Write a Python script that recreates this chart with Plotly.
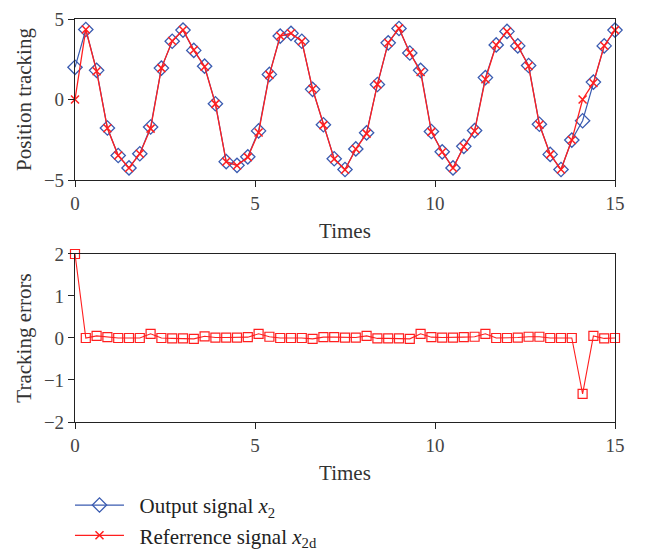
import plotly.graph_objects as go

times = [round(0.3 * i, 1) for i in range(51)]

output_signal = [2.0, 4.35, 1.81, -1.77, -3.48, -4.25, -3.37, -1.71, 1.95, 3.62,
                 4.31, 3.05, 2.07, -0.26, -3.86, -4.09, -3.56, -1.95, 1.56, 3.94,
                 4.11, 3.62, 0.63, -1.57, -3.68, -4.35, -3.07, -2.07, 0.93, 3.52,
                 4.41, 2.89, 1.81, -1.99, -3.25, -4.25, -2.91, -1.93, 1.36, 3.39,
                 4.23, 3.33, 2.11, -1.54, -3.41, -4.35, -2.52, -1.32, 1.08, 3.33,
                 4.31]

reference_signal = [0.0, 4.35, 1.76, -1.79, -3.48, -4.25, -3.37, -1.81, 1.95, 3.63,
                    4.32, 3.07, 2.03, -0.27, -3.87, -4.10, -3.58, -2.05, 1.53, 3.94,
                    4.11, 3.62, 0.65, -1.59, -3.70, -4.36, -3.08, -2.12, 0.94, 3.53,
                    4.42, 2.91, 1.71, -2.01, -3.26, -4.26, -2.93, -1.96, 1.26, 3.39,
                    4.23, 3.32, 2.08, -1.57, -3.41, -4.35, -2.52, 0.0, 1.03, 3.34,
                    4.31]

tracking_error = [2.0, 0.0, 0.05, 0.02, 0.0, 0.0, 0.0, 0.1, 0.0, -0.01,
                  -0.01, -0.02, 0.04, 0.01, 0.01, 0.01, 0.02, 0.1, 0.03, 0.0,
                  0.0, 0.0, -0.02, 0.02, 0.02, 0.01, 0.01, 0.05, -0.01, -0.01,
                  -0.01, -0.02, 0.1, 0.02, 0.01, 0.01, 0.02, 0.03, 0.1, 0.0,
                  0.0, 0.01, 0.03, 0.03, 0.0, 0.0, 0.0, -1.33, 0.05, -0.01,
                  0.0]

x_ticks = [0, 5, 10, 15]
y1_ticks = [-5, 0, 5]
y2_ticks = [-2, -1, 0, 1, 2]

BLUE = "#3a5bb0"
RED = "#ff1f1f"
FONT = "Liberation Serif"
TICK_FONT = dict(family=FONT, size=19, color="#444444")
TITLE_FONT = dict(family=FONT, size=21, color="#333333")

fig = go.Figure()

fig.add_trace(go.Scatter(
    x=times, y=output_signal, mode="lines+markers",
    name="&nbsp;&nbsp;Output signal <i>x</i><sub>2</sub>",
    line=dict(color=BLUE, width=1.2),
    marker=dict(symbol="diamond-open", size=11, color=BLUE, line=dict(width=1.3, color=BLUE)),
    cliponaxis=False, xaxis="x", yaxis="y",
))

fig.add_trace(go.Scatter(
    x=times, y=reference_signal, mode="lines+markers",
    name="&nbsp;&nbsp;Referrence signal <i>x</i><sub>2d</sub>",
    line=dict(color=RED, width=1.3),
    marker=dict(symbol="x-thin-open", size=8, color=RED, line=dict(width=1.5, color=RED)),
    cliponaxis=False, xaxis="x", yaxis="y",
))

fig.add_trace(go.Scatter(
    x=times, y=tracking_error, mode="lines+markers",
    showlegend=False,
    line=dict(color=RED, width=1.1),
    marker=dict(symbol="square-open", size=9, color=RED, line=dict(width=1.2, color=RED)),
    cliponaxis=False, xaxis="x2", yaxis="y2",
))

main = dict(showgrid=False, zeroline=False, showline=True, linecolor="#222222", linewidth=1.2,
            mirror=True, ticks="outside", ticklen=6, tickwidth=1.2, tickcolor="#222222",
            tickfont=TICK_FONT, ticklabeloverflow="allow")
mirror_ax = dict(showgrid=False, zeroline=False, showline=False, ticks="inside", ticklen=6,
                 tickwidth=1.2, tickcolor="#222222", showticklabels=False)

D1 = [0.5888, 0.9805]
D2 = [0.0, 0.4088]

fig.update_layout(
    xaxis=dict(**main, range=[0, 15], tickvals=x_ticks, domain=[0, 1], anchor="y",
               title=dict(text="Times", font=TITLE_FONT, standoff=10)),
    yaxis=dict(**main, range=[-5, 5], tickvals=y1_ticks, domain=D1, anchor="x",
               title=dict(text="Position tracking", font=TITLE_FONT, standoff=6)),
    xaxis2=dict(**main, range=[0, 15], tickvals=x_ticks, domain=[0, 1], anchor="y2",
                title=dict(text="Times", font=TITLE_FONT, standoff=10)),
    yaxis2=dict(**main, range=[-2, 2], tickvals=y2_ticks, domain=D2, anchor="x2",
                title=dict(text="Tracking errors", font=TITLE_FONT, standoff=6)),
    xaxis3=dict(**mirror_ax, range=[0, 15], tickvals=x_ticks, overlaying="x", side="top", anchor="y"),
    yaxis3=dict(**mirror_ax, range=[-5, 5], tickvals=y1_ticks, overlaying="y", side="right", anchor="x"),
    xaxis4=dict(**mirror_ax, range=[0, 15], tickvals=x_ticks, overlaying="x2", side="top", anchor="y2"),
    yaxis4=dict(**mirror_ax, range=[-2, 2], tickvals=y2_ticks, overlaying="y2", side="right", anchor="x2"),
    width=645, height=552,
    margin=dict(l=67, r=38, t=3, b=138, autoexpand=False),
    paper_bgcolor="white", plot_bgcolor="white",
    showlegend=True,
    legend=dict(x=-0.0093, y=-0.153, xanchor="left", yanchor="top",
                font=dict(family=FONT, size=21, color="#222222"),
                tracegroupgap=0, itemwidth=49, bgcolor="rgba(0,0,0,0)"),
)

fig.write_html("out.html")
